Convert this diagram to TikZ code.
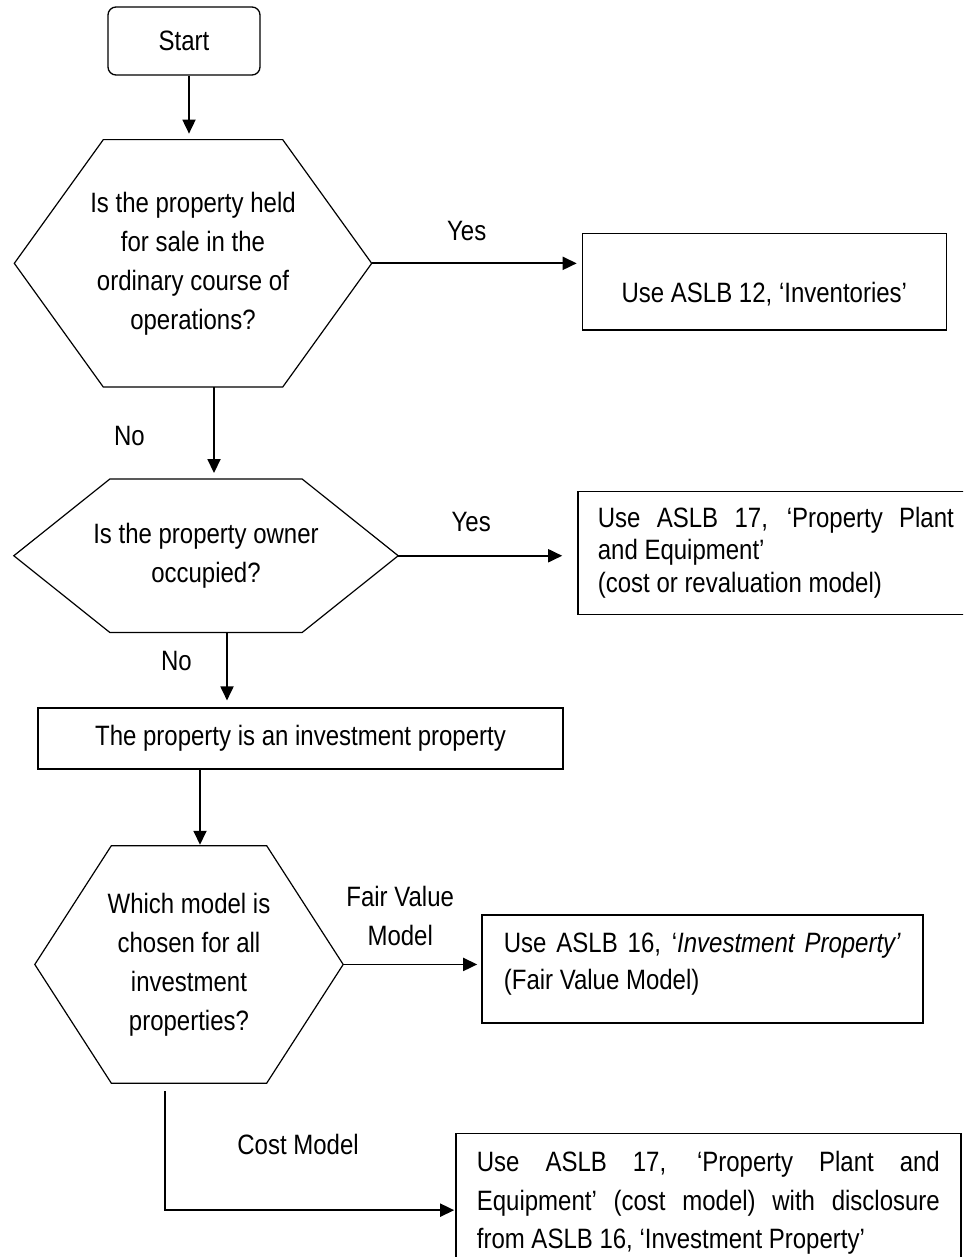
\documentclass[tikz,border=0pt]{standalone}
\usepackage{fontspec}
\setmainfont{Liberation Sans}[FakeStretch=0.857]
\usetikzlibrary{positioning, arrows.meta, calc}
\hyphenpenalty=10000

\begin{document}
\begin{tikzpicture}[
    x=1pt, y=-1pt,
    font=\fontsize{28}{39}\selectfont,
    startbox/.style={
        rectangle,
        draw,
        line width=1.3pt,
        rounded corners=8pt,
        minimum width=152pt,
        minimum height=68pt
    },
    decision/.style 2 args={
        rectangle,
        minimum width=#1,
        minimum height=#2,
        align=center
    },
    outbox/.style 2 args={
        rectangle,
        draw,
        line width=1.3pt,
        minimum width=#1,
        minimum height=#2,
        align=center
    },
    textbox/.style 2 args={
        rectangle,
        draw,
        line width=1.3pt,
        text width=#1,
        minimum width=#2,
        inner xsep=20pt,
        inner ysep=18pt,
        text height=20pt,
        align=justify
    },
    lbl/.style={inner sep=3.3pt},
    arrow/.style={-{Triangle[length=14pt,width=13pt]}, line width=1.8pt}
]
    \useasboundingbox (0,0) rectangle (963,1257);
    \clip (0,0) rectangle (963,1257);

    \node[startbox] (start) at (184,41) {Start};
    \node[decision={357pt}{247pt}, below=64pt of start, xshift=9pt] (q1)
        {Is the property held\\for sale in the\\ordinary course of\\operations?};
    \node[outbox={364pt}{96pt}, text height=42pt, text depth=0pt,
        right=210pt of q1, yshift=-18.5pt] (inv) {Use ASLB 12, ‘Inventories’};
    \node[decision={384pt}{153pt}, below=92pt of q1, xshift=13pt] (q2)
        {Is the property owner\\occupied?};
    \node[textbox={356pt}{396pt}, font=\fontsize{28}{32.5}\selectfont,
        inner ysep=0pt, minimum height=123pt, text depth=71pt,
        right=179pt of q2, yshift=3pt] (ppe)
        {Use ASLB 17, ‘Property Plant\linebreak and Equipment’\\(cost or revaluation model)};
    \node[outbox={525pt}{61pt}, below=75pt of q2, xshift=94.5pt] (invest)
        {The property is an investment property};
    \node[decision={308pt}{237pt}, below=76pt of invest, xshift=-111.5pt] (q3)
        {Which model is\\chosen for all\\investment\\properties?};
    \node[textbox={397pt}{441pt}, font=\fontsize{28}{37}\selectfont, text depth=52pt,
        right=138pt of q3, yshift=-4.5pt] (fv)
        {Use ASLB 16, ‘\textit{Investment Property’}\linebreak (Fair Value Model)};
    \node[textbox={463pt}{505pt}, font=\fontsize{28}{38.5}\selectfont,
        below right=50pt and 112pt of q3] (cost)
        {Use ASLB 17, ‘Property Plant and\linebreak Equipment’ (cost model) with disclosure\linebreak from ASLB 16, ‘Investment Property’};

    \foreach \n/\d in {q1/89, q2/96, q3/76.5}
        \draw[line width=1.2pt] (\n.west) -- ([xshift=\d pt]\n.north west) -- ([xshift=-\d pt]\n.north east)
            -- (\n.east) -- ([xshift=-\d pt]\n.south east) -- ([xshift=\d pt]\n.south west) -- cycle;

    \coordinate (c0) at ([xshift=5pt]start.south);
    \coordinate (c1) at ([xshift=21pt]q1.south);
    \coordinate (c2) at ([xshift=21pt]q2.south);
    \coordinate (c3) at ([xshift=-100.5pt]invest.south);
    \coordinate (c4) at ([xshift=-24pt]q3.south);
    \coordinate (c5) at ([yshift=-77pt]cost.north west);

    \draw[arrow, shorten >=6pt] (c0) -- (c0 |- q1.north);
    \draw[arrow, shorten >=5pt] (q1.east) -- node[lbl, above=18pt, xshift=-10pt] (yes1) {Yes} (q1.east -| inv.west);
    \draw[arrow, shorten >=6pt] (c1) -- node[lbl, left=65pt, yshift=-3pt] (no1) {No} (c1 |- q2.north);
    \draw[arrow, shorten >=15pt] (q2.east) -- node[lbl, above=20pt, xshift=-16.5pt] (yes2) {Yes} (q2.east -| ppe.west);
    \draw[arrow, shorten >=7pt] (c2) -- node[lbl, left=31pt, yshift=8.5pt] (no2) {No} (c2 |- invest.north);
    \draw[arrow, shorten >=1pt] (c3) -- (c3 |- q3.north);
    \draw[arrow, shorten >=4pt] (q3.east) -- node[lbl, align=center, above=14pt, xshift=-12pt] (fvlbl) {Fair Value\\Model} (q3.east -| fv.west);
    \draw[arrow, shorten <=8pt, shorten >=1pt] (c4) |- node[lbl, pos=0.75, above=51pt, xshift=-12pt] (costlbl) {Cost Model} (c5);
\end{tikzpicture}
\end{document}
